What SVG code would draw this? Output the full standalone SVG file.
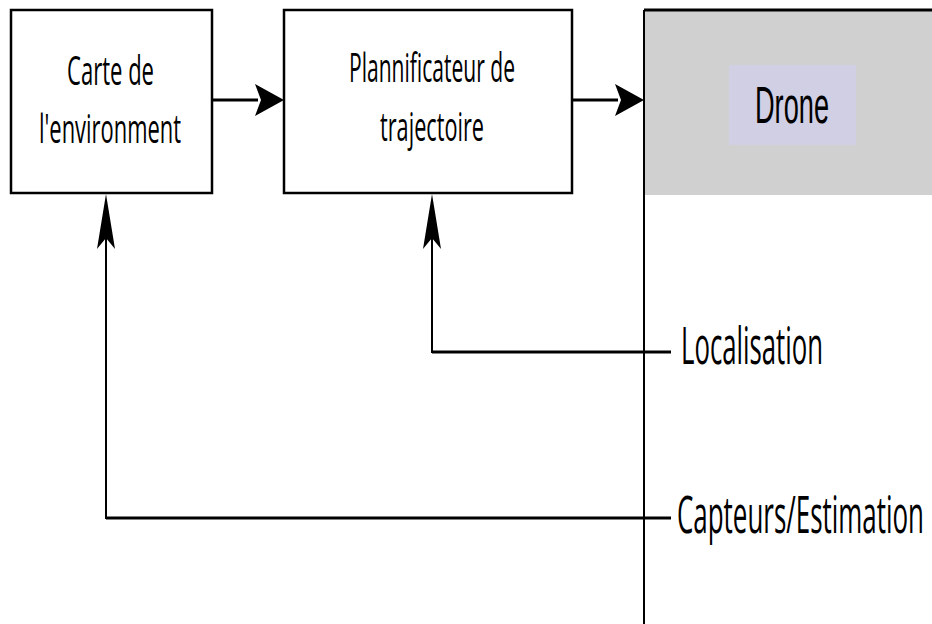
<svg xmlns="http://www.w3.org/2000/svg" width="932" height="624" viewBox="0 0 932 624">
  <defs>
    <style>
      .box { fill: #ffffff; stroke: #000000; stroke-width: 2.5; }
      .lbl { font-family: "Open Sans", "Noto Sans", "DejaVu Sans", sans-serif; font-size: 40px; fill: #000000; }
      .sig { font-family: "Open Sans", "Noto Sans", "DejaVu Sans", sans-serif; font-size: 51px; fill: #000000; }
      .wire { fill: none; stroke: #000000; stroke-width: 3; }
      .vwire { fill: none; stroke: #000000; stroke-width: 2; }
      .head { fill: #000000; stroke: none; }
    </style>
  </defs>

  <rect width="932" height="624" fill="#ffffff"/>

  <!-- Drone block: grey header with a label tag, open towards the right and bottom -->
  <g id="drone">
    <rect x="644" y="10" width="290" height="185" fill="#d0d0d0"/>
    <path d="M644,10 H934" class="wire"/>
    <path d="M644,10 V624" class="vwire"/>
    <rect x="729" y="65" width="127" height="80" fill="#d0cfe3"/>
    <text x="755" y="123" font-family="'Liberation Sans', Arial, sans-serif" font-size="52" fill="#000" textLength="74" lengthAdjust="spacingAndGlyphs">Drone</text>
  </g>

  <!-- Environment map -->
  <g id="carte">
    <rect class="box" x="11" y="10" width="201" height="183"/>
    <text class="lbl" x="67" y="85" textLength="87" lengthAdjust="spacingAndGlyphs">Carte de</text>
    <text class="lbl" x="39" y="143" textLength="142" lengthAdjust="spacingAndGlyphs">l'environment</text>
  </g>

  <!-- Trajectory planner -->
  <g id="planificateur">
    <rect class="box" x="284" y="10" width="288" height="183"/>
    <text class="lbl" x="349" y="82" textLength="166" lengthAdjust="spacingAndGlyphs">Plannificateur de</text>
    <text class="lbl" x="380" y="141" textLength="104" lengthAdjust="spacingAndGlyphs">trajectoire</text>
  </g>

  <!-- Signal labels on the drone side -->
  <g id="localisation">
    <text class="sig" x="681" y="364" textLength="142" lengthAdjust="spacingAndGlyphs">Localisation</text>
  </g>
  <g id="capteurs">
    <text class="sig" x="677" y="533" textLength="247" lengthAdjust="spacingAndGlyphs">Capteurs/Estimation</text>
  </g>

  <!-- Connectors -->
  <g id="connectors">
    <!-- map -> planner -->
    <path class="wire" d="M212,100 H258"/>
    <polygon class="head" points="284,100 255,84 261,100 255,116"/>
    <!-- planner -> drone -->
    <path class="wire" d="M572,100 H618"/>
    <polygon class="head" points="644,100 615,84 621,100 615,116"/>
    <!-- localisation feedback -> planner -->
    <path class="wire" d="M671,352 H432"/>
    <path class="vwire" d="M432,353 V236"/>
    <polygon class="head" points="432,194 423,249 432,238 441,249"/>
    <!-- sensor estimation feedback -> map -->
    <path class="wire" d="M671,518 H106"/>
    <path class="vwire" d="M106,519 V236"/>
    <polygon class="head" points="106,194 97,249 106,238 115,249"/>
  </g>
</svg>
